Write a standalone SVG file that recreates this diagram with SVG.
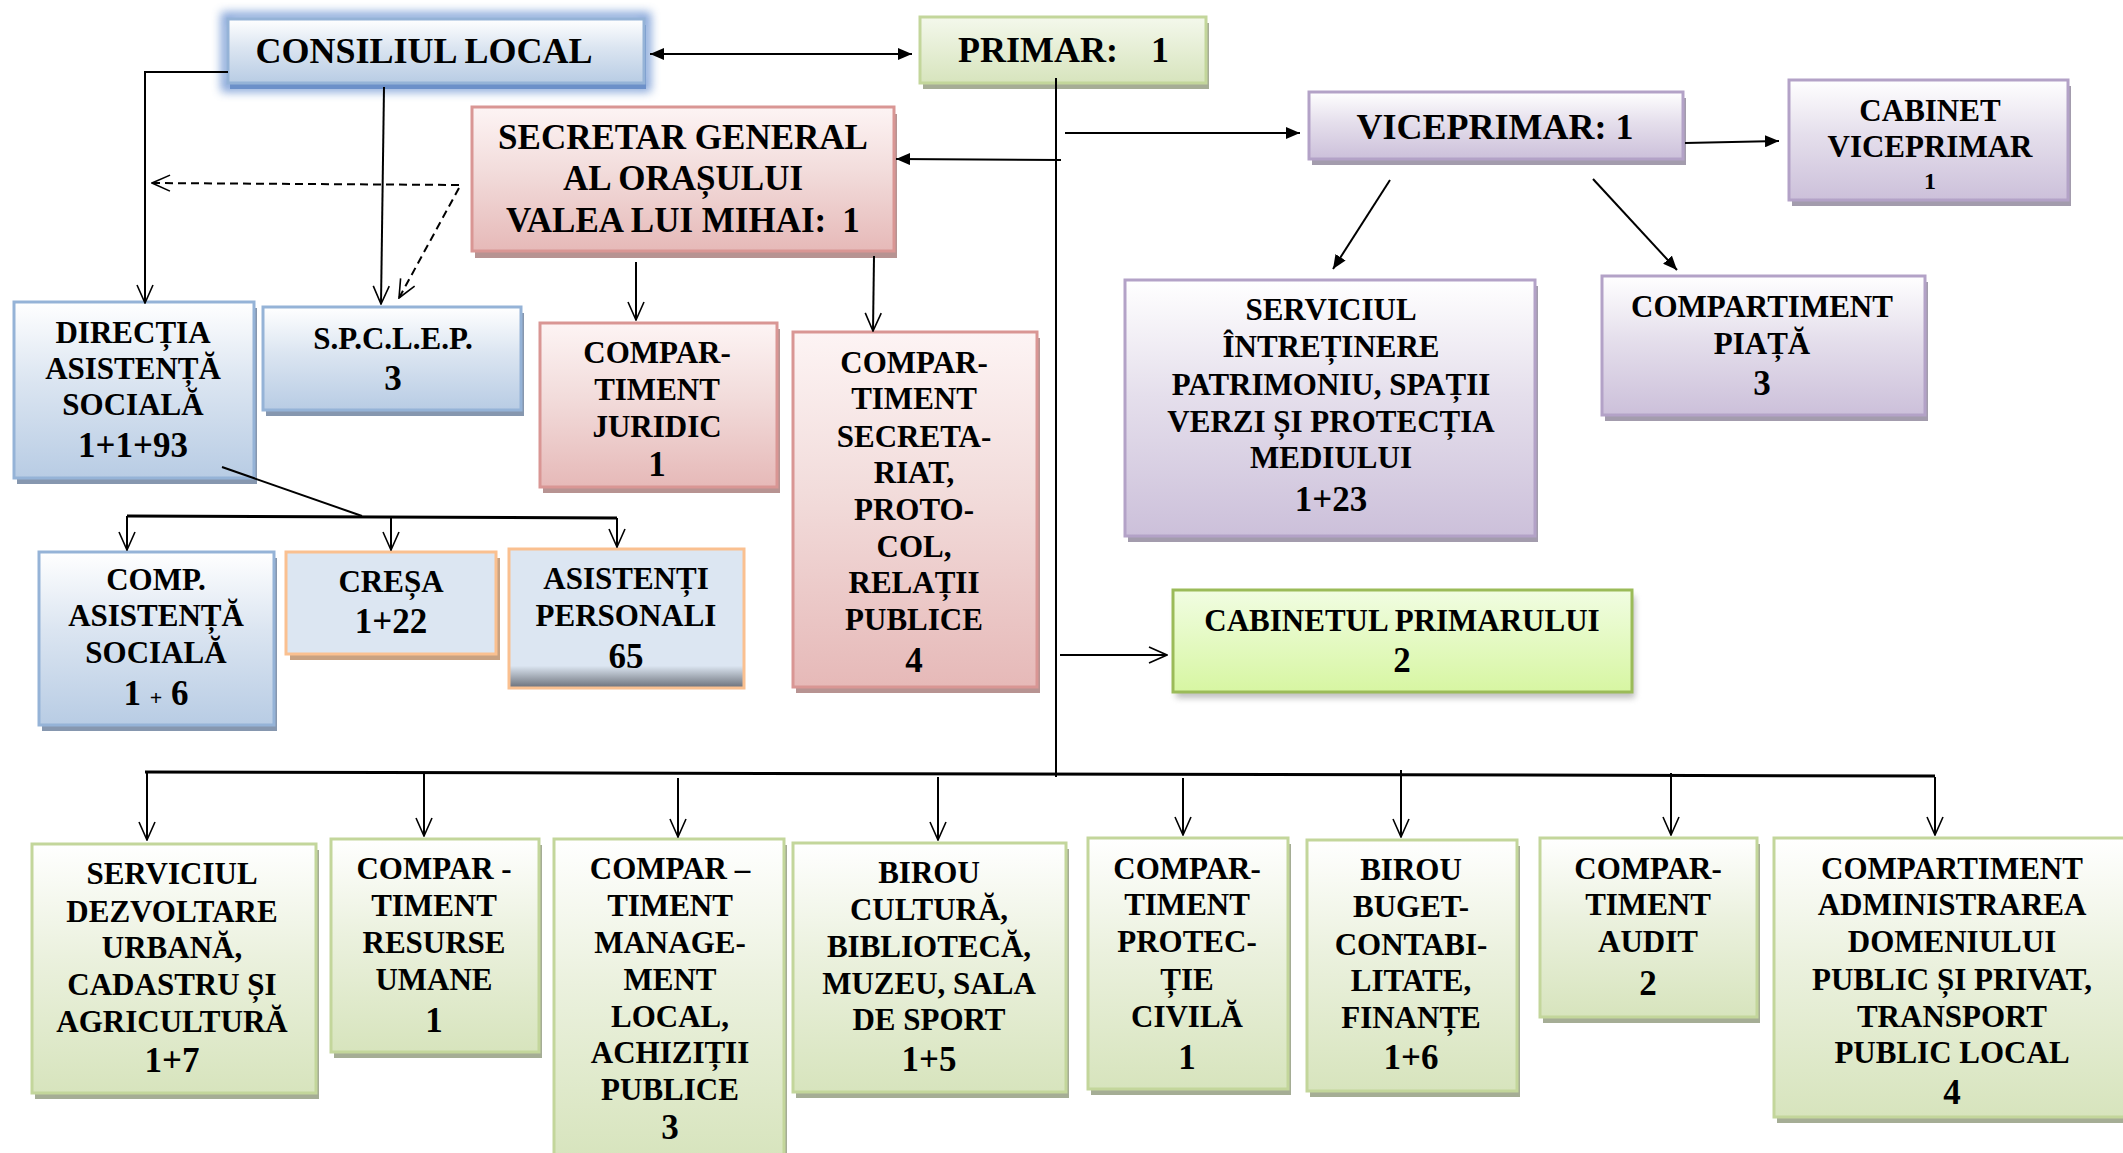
<svg xmlns="http://www.w3.org/2000/svg" width="2123" height="1153" viewBox="0 0 2123 1153">
<defs>
<style>
.t{font-family:"Liberation Serif","Times New Roman",serif;font-weight:bold;font-size:31px;text-anchor:middle;fill:#000}
.n{font-size:35px}
.big{font-size:36px}
.sm{font-size:24px}
.box{stroke-width:3}
.blue .box{fill:url(#gBlue);stroke:#95b3d7}
.blue .sh{fill:#8697af}
.red .box{fill:url(#gRed);stroke:#d99694}
.red .sh{fill:#b79392}
.pur .box{fill:url(#gPur);stroke:#b3a2c7}
.pur .sh{fill:#a39cad}
.grn .box{fill:url(#gGrn);stroke:#c3d69b}
.grn .sh{fill:#a5ad95}
.org .box{stroke:#fac090}
.org .sh{fill:#c9a282}
.ln{stroke:#000;stroke-width:2;fill:none}
.bus{stroke:#000;stroke-width:3;fill:none}
.dash{stroke:#000;stroke-width:2;fill:none;stroke-dasharray:8 5}
.fa{marker-end:url(#af)}
.oa{marker-end:url(#ao)}
</style>
<linearGradient id="gBlue" x1="0" y1="0" x2="0" y2="1"><stop offset="0" stop-color="#ffffff"/><stop offset="0.45" stop-color="#dbe5f1"/><stop offset="1" stop-color="#b8cce4"/></linearGradient>
<linearGradient id="gRed" x1="0" y1="0" x2="0" y2="1"><stop offset="0" stop-color="#fdf4f4"/><stop offset="0.45" stop-color="#f2dcdb"/><stop offset="1" stop-color="#e6b9b8"/></linearGradient>
<linearGradient id="gPur" x1="0" y1="0" x2="0" y2="1"><stop offset="0" stop-color="#ffffff"/><stop offset="0.45" stop-color="#e5dfec"/><stop offset="1" stop-color="#ccc0da"/></linearGradient>
<linearGradient id="gGrn" x1="0" y1="0" x2="0" y2="1"><stop offset="0" stop-color="#ffffff"/><stop offset="0.45" stop-color="#ebf1de"/><stop offset="1" stop-color="#d7e4bd"/></linearGradient>
<linearGradient id="gPrim" x1="0" y1="0" x2="0" y2="1"><stop offset="0" stop-color="#f4f8ec"/><stop offset="1" stop-color="#d7e4bd"/></linearGradient>
<linearGradient id="gLime" x1="0" y1="0" x2="0" y2="1"><stop offset="0" stop-color="#f1fde2"/><stop offset="1" stop-color="#d7f6a2"/></linearGradient>
<linearGradient id="gAsist" x1="0" y1="0" x2="0" y2="1"><stop offset="0" stop-color="#dce6f2"/><stop offset="0.84" stop-color="#dce6f2"/><stop offset="1" stop-color="#6a6f78"/></linearGradient>
<filter id="glow" x="-20%" y="-60%" width="140%" height="220%"><feGaussianBlur stdDeviation="5"/></filter>
<filter id="soft" x="-10%" y="-20%" width="120%" height="150%"><feGaussianBlur stdDeviation="3"/></filter>
<marker id="af" viewBox="0 0 14 12" refX="14" refY="6" markerWidth="14" markerHeight="12" markerUnits="userSpaceOnUse" orient="auto-start-reverse"><path d="M0,0 L14,6 L0,12 z" fill="#000"/></marker>
<marker id="ao" viewBox="0 0 20 18" refX="19" refY="9" markerWidth="20" markerHeight="18" markerUnits="userSpaceOnUse" orient="auto"><path d="M1,1 L19,9 L1,17" fill="none" stroke="#000" stroke-width="1.6"/></marker>
</defs>
<rect x="0" y="0" width="2123" height="1153" fill="#ffffff"/>

<g id="consiliul-local" class="blue">
<rect x="226" y="17" width="420" height="70" fill="none" stroke="#5b86cc" stroke-width="10" opacity="0.75" filter="url(#glow)"/>
<rect x="230" y="25" width="416" height="64" fill="#6c90c9"/>
<rect class="box" x="228" y="19" width="416" height="64"/>
<text class="t big" x="424" y="63">CONSILIUL LOCAL</text>
</g>

<g id="primar">
<rect x="923" y="23" width="286" height="66" fill="#a6ad96"/>
<rect class="box" x="920" y="17" width="286" height="66" fill="url(#gPrim)" stroke="#c3d69b"/>
<text class="t big"><tspan x="958" y="62" text-anchor="start">PRIMAR:</tspan><tspan x="1160" y="62">1</tspan></text>
</g>

<g id="secretar-general" class="red">
<rect class="sh" x="475" y="114" width="422" height="144"/>
<rect class="box" x="472" y="107" width="422" height="144"/>
<text class="t n" x="683" y="149">SECRETAR GENERAL</text>
<text class="t n" x="683" y="190">AL ORAȘULUI</text>
<text class="t n"><tspan x="506" y="232" text-anchor="start">VALEA LUI MIHAI:</tspan><tspan x="851" y="232">1</tspan></text>
</g>

<g id="viceprimar" class="pur">
<rect class="sh" x="1312" y="98" width="374" height="67"/>
<rect class="box" x="1309" y="92" width="374" height="67"/>
<text class="t big" x="1495" y="139">VICEPRIMAR: 1</text>
</g>

<g id="cabinet-viceprimar" class="pur">
<rect class="sh" x="1792" y="86" width="279" height="120"/>
<rect class="box" x="1789" y="80" width="279" height="120"/>
<text class="t" x="1930" y="121">CABINET</text>
<text class="t" x="1930" y="157">VICEPRIMAR</text>
<text class="t sm" x="1930" y="189">1</text>
</g>

<g id="serviciul-intretinere" class="pur">
<rect class="sh" x="1128" y="286" width="410" height="256"/>
<rect class="box" x="1125" y="280" width="410" height="256"/>
<text class="t" x="1331" y="320">SERVICIUL</text>
<text class="t" x="1331" y="357">ÎNTREȚINERE</text>
<text class="t" x="1331" y="395">PATRIMONIU, SPAȚII</text>
<text class="t" x="1331" y="432">VERZI ȘI PROTECȚIA</text>
<text class="t" x="1331" y="468">MEDIULUI</text>
<text class="t n" x="1331" y="511">1+23</text>
</g>

<g id="compartiment-piata" class="pur">
<rect class="sh" x="1605" y="282" width="323" height="139"/>
<rect class="box" x="1602" y="276" width="323" height="139"/>
<text class="t" x="1762" y="317">COMPARTIMENT</text>
<text class="t" x="1762" y="354">PIAȚĂ</text>
<text class="t n" x="1762" y="395">3</text>
</g>

<g id="directia-asistenta" class="blue">
<rect class="sh" x="17" y="308" width="240" height="176"/>
<rect class="box" x="14" y="302" width="240" height="176"/>
<text class="t" x="133" y="343">DIRECȚIA</text>
<text class="t" x="133" y="379">ASISTENȚĂ</text>
<text class="t" x="133" y="415">SOCIALĂ</text>
<text class="t n" x="133" y="457">1+1+93</text>
</g>

<g id="spclep" class="blue">
<rect class="sh" x="266" y="313" width="258" height="103"/>
<rect class="box" x="263" y="307" width="258" height="103"/>
<text class="t" x="393" y="349">S.P.C.L.E.P.</text>
<text class="t n" x="393" y="390">3</text>
</g>

<g id="compartiment-juridic" class="red">
<rect class="sh" x="543" y="329" width="237" height="164"/>
<rect class="box" x="540" y="323" width="237" height="164"/>
<text class="t" x="657" y="363">COMPAR-</text>
<text class="t" x="657" y="400">TIMENT</text>
<text class="t" x="657" y="437">JURIDIC</text>
<text class="t n" x="657" y="476">1</text>
</g>

<g id="compartiment-secretariat" class="red">
<rect class="sh" x="796" y="338" width="244" height="355"/>
<rect class="box" x="793" y="332" width="244" height="355"/>
<text class="t" x="914" y="373">COMPAR-</text>
<text class="t" x="914" y="409">TIMENT</text>
<text class="t" x="914" y="447">SECRETA-</text>
<text class="t" x="914" y="483">RIAT,</text>
<text class="t" x="914" y="520">PROTO-</text>
<text class="t" x="914" y="557">COL,</text>
<text class="t" x="914" y="593">RELAȚII</text>
<text class="t" x="914" y="630">PUBLICE</text>
<text class="t n" x="914" y="672">4</text>
</g>

<g id="comp-asistenta-sociala" class="blue">
<rect class="sh" x="42" y="558" width="235" height="173"/>
<rect class="box" x="39" y="552" width="235" height="173"/>
<text class="t" x="156" y="590">COMP.</text>
<text class="t" x="156" y="626">ASISTENȚĂ</text>
<text class="t" x="156" y="663">SOCIALĂ</text>
<text class="t n" x="156" y="705">1 <tspan style="font-size:22px">+</tspan> 6</text>
</g>

<g id="cresa" class="org">
<rect class="sh" x="290" y="558" width="210" height="102"/>
<rect class="box" x="286" y="552" width="210" height="102" fill="#dce6f2"/>
<text class="t" x="391" y="592">CREȘA</text>
<text class="t n" x="391" y="633">1+22</text>
</g>

<g id="asistenti-personali" class="org">
<rect class="box" x="509" y="549" width="235" height="139" fill="url(#gAsist)"/>
<text class="t" x="626" y="589">ASISTENȚI</text>
<text class="t" x="626" y="626">PERSONALI</text>
<text class="t n" x="626" y="668">65</text>
</g>

<g id="cabinetul-primarului">
<rect x="1176" y="596" width="459" height="102" fill="#8a8a8a" opacity="0.55" filter="url(#soft)"/>
<rect class="box" x="1173" y="590" width="459" height="102" fill="url(#gLime)" stroke="#9bbb59"/>
<text class="t" x="1402" y="631">CABINETUL PRIMARULUI</text>
<text class="t n" x="1402" y="672">2</text>
</g>

<g id="serviciul-dezvoltare" class="grn">
<rect class="sh" x="35" y="850" width="284" height="249"/>
<rect class="box" x="32" y="844" width="284" height="249"/>
<text class="t" x="172" y="884">SERVICIUL</text>
<text class="t" x="172" y="922">DEZVOLTARE</text>
<text class="t" x="172" y="958">URBANĂ,</text>
<text class="t" x="172" y="995">CADASTRU ȘI</text>
<text class="t" x="172" y="1032">AGRICULTURĂ</text>
<text class="t n" x="172" y="1072">1+7</text>
</g>

<g id="compartiment-resurse-umane" class="grn">
<rect class="sh" x="334" y="845" width="208" height="213"/>
<rect class="box" x="331" y="839" width="208" height="213"/>
<text class="t" x="434" y="879">COMPAR -</text>
<text class="t" x="434" y="916">TIMENT</text>
<text class="t" x="434" y="953">RESURSE</text>
<text class="t" x="434" y="990">UMANE</text>
<text class="t n" x="434" y="1032">1</text>
</g>

<g id="compartiment-management" class="grn">
<rect class="sh" x="557" y="845" width="230" height="320"/>
<rect class="box" x="554" y="839" width="230" height="320"/>
<text class="t" x="670" y="879">COMPAR –</text>
<text class="t" x="670" y="916">TIMENT</text>
<text class="t" x="670" y="953">MANAGE-</text>
<text class="t" x="670" y="990">MENT</text>
<text class="t" x="670" y="1027">LOCAL,</text>
<text class="t" x="670" y="1063">ACHIZIȚII</text>
<text class="t" x="670" y="1100">PUBLICE</text>
<text class="t n" x="670" y="1139">3</text>
</g>

<g id="birou-cultura" class="grn">
<rect class="sh" x="796" y="849" width="273" height="249"/>
<rect class="box" x="793" y="843" width="273" height="249"/>
<text class="t" x="929" y="883">BIROU</text>
<text class="t" x="929" y="920">CULTURĂ,</text>
<text class="t" x="929" y="957">BIBLIOTECĂ,</text>
<text class="t" x="929" y="994">MUZEU, SALA</text>
<text class="t" x="929" y="1030">DE SPORT</text>
<text class="t n" x="929" y="1071">1+5</text>
</g>

<g id="compartiment-protectie-civila" class="grn">
<rect class="sh" x="1091" y="844" width="200" height="251"/>
<rect class="box" x="1088" y="838" width="200" height="251"/>
<text class="t" x="1187" y="879">COMPAR-</text>
<text class="t" x="1187" y="915">TIMENT</text>
<text class="t" x="1187" y="952">PROTEC-</text>
<text class="t" x="1187" y="990">ȚIE</text>
<text class="t" x="1187" y="1027">CIVILĂ</text>
<text class="t n" x="1187" y="1069">1</text>
</g>

<g id="birou-buget" class="grn">
<rect class="sh" x="1310" y="846" width="210" height="251"/>
<rect class="box" x="1307" y="840" width="210" height="251"/>
<text class="t" x="1411" y="880">BIROU</text>
<text class="t" x="1411" y="917">BUGET-</text>
<text class="t" x="1411" y="955">CONTABI-</text>
<text class="t" x="1411" y="991">LITATE,</text>
<text class="t" x="1411" y="1028">FINANȚE</text>
<text class="t n" x="1411" y="1069">1+6</text>
</g>

<g id="compartiment-audit" class="grn">
<rect class="sh" x="1543" y="844" width="217" height="179"/>
<rect class="box" x="1540" y="838" width="217" height="179"/>
<text class="t" x="1648" y="879">COMPAR-</text>
<text class="t" x="1648" y="915">TIMENT</text>
<text class="t" x="1648" y="952">AUDIT</text>
<text class="t n" x="1648" y="995">2</text>
</g>

<g id="compartiment-administrarea" class="grn">
<rect class="sh" x="1777" y="844" width="352" height="279"/>
<rect class="box" x="1774" y="838" width="352" height="279"/>
<text class="t" x="1952" y="879">COMPARTIMENT</text>
<text class="t" x="1952" y="915">ADMINISTRAREA</text>
<text class="t" x="1952" y="952">DOMENIULUI</text>
<text class="t" x="1952" y="990">PUBLIC ȘI PRIVAT,</text>
<text class="t" x="1952" y="1027">TRANSPORT</text>
<text class="t" x="1952" y="1063">PUBLIC LOCAL</text>
<text class="t n" x="1952" y="1104">4</text>
</g>

<g id="connectors">
<line class="ln fa" x1="650" y1="54" x2="912" y2="54" marker-start="url(#af)"/>
<polyline class="ln oa" points="228,72 145,72 145,303"/>
<line class="ln oa" x1="384" y1="87" x2="381" y2="304"/>
<line class="dash oa" x1="459" y1="185" x2="152" y2="183"/>
<line class="dash oa" x1="459" y1="188" x2="399" y2="298"/>
<line class="ln" x1="1056" y1="78" x2="1056" y2="777"/>
<line class="ln fa" x1="1061" y1="160" x2="896" y2="159"/>
<line class="ln fa" x1="1065" y1="133" x2="1300" y2="133"/>
<line class="ln fa" x1="1685" y1="143" x2="1779" y2="141"/>
<line class="ln fa" x1="1390" y1="180" x2="1333" y2="269"/>
<line class="ln fa" x1="1593" y1="179" x2="1677" y2="270"/>
<line class="ln oa" x1="636" y1="262" x2="636" y2="320"/>
<line class="ln oa" x1="874" y1="256" x2="873" y2="331"/>
<line class="ln" x1="222" y1="467" x2="362" y2="516"/>
<line class="bus" x1="127" y1="516" x2="617" y2="518"/>
<line class="ln oa" x1="127" y1="516" x2="127" y2="550"/>
<line class="ln oa" x1="391" y1="517" x2="391" y2="550"/>
<line class="ln oa" x1="617" y1="518" x2="617" y2="547"/>
<line class="ln oa" x1="1060" y1="655" x2="1167" y2="655"/>
<line class="bus" x1="145" y1="772" x2="1935" y2="776"/>
<line class="ln oa" x1="147" y1="772" x2="147" y2="840"/>
<line class="ln oa" x1="424" y1="773" x2="424" y2="836"/>
<line class="ln oa" x1="678" y1="778" x2="678" y2="837"/>
<line class="ln oa" x1="938" y1="777" x2="938" y2="840"/>
<line class="ln oa" x1="1183" y1="778" x2="1183" y2="835"/>
<line class="ln oa" x1="1401" y1="770" x2="1401" y2="837"/>
<line class="ln oa" x1="1671" y1="773" x2="1671" y2="835"/>
<line class="ln oa" x1="1935" y1="777" x2="1935" y2="835"/>
</g>
</svg>
